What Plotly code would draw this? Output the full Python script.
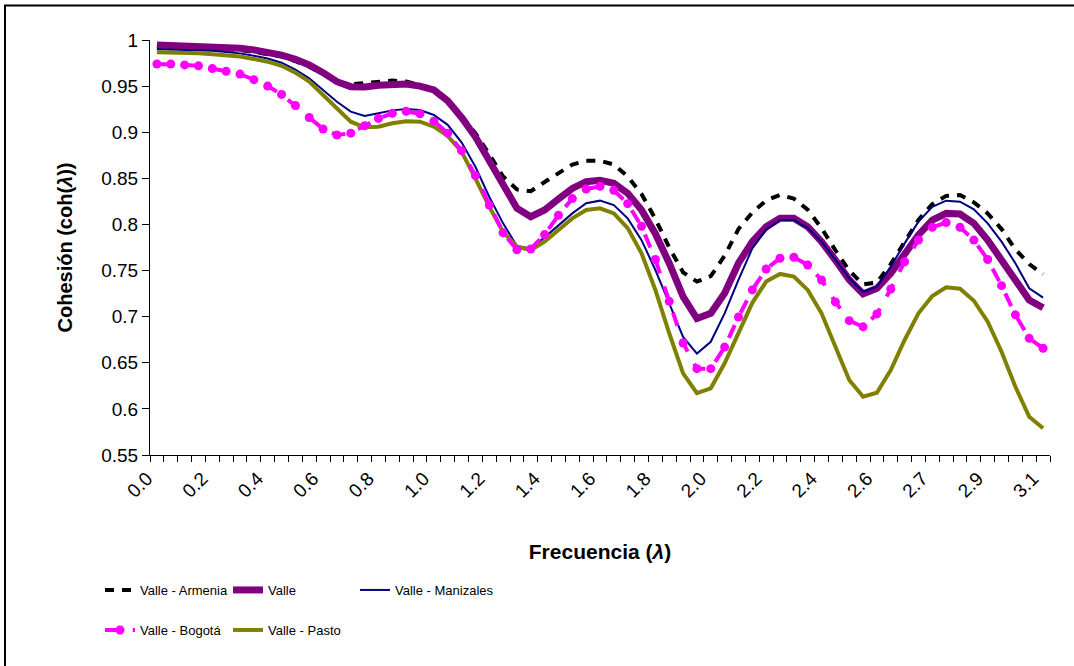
import numpy as np
import plotly.graph_objects as go

# Frequencies lambda_k = k*pi/64, k = 0..64
freq = [k * np.pi / 64 for k in range(65)]
tick_labels = ["0.0", "0.2", "0.4", "0.6", "0.8", "1.0", "1.2", "1.4", "1.6",
               "1.8", "2.0", "2.2", "2.4", "2.6", "2.7", "2.9", "3.1"]

valle_armenia = [0.993, 0.9925, 0.992, 0.9915, 0.991, 0.990, 0.989, 0.987, 0.985, 0.982,
                 0.977, 0.971, 0.963, 0.954, 0.952, 0.953, 0.955, 0.956, 0.955, 0.951,
                 0.944, 0.933, 0.918, 0.899, 0.876, 0.852, 0.838, 0.836, 0.846, 0.856,
                 0.865, 0.869, 0.869, 0.865, 0.852, 0.833, 0.806, 0.775, 0.748, 0.738,
                 0.744, 0.766, 0.795, 0.813, 0.826, 0.832, 0.828, 0.816, 0.796, 0.772,
                 0.750, 0.735, 0.737, 0.757, 0.782, 0.805, 0.822, 0.831, 0.832, 0.824,
                 0.812, 0.795, 0.773, 0.757, 0.746]

valle = [0.9946, 0.9942, 0.9938, 0.9933, 0.9928, 0.992, 0.991, 0.9893, 0.9873, 0.9837,
         0.979, 0.973, 0.9646, 0.9548, 0.9494, 0.949, 0.951, 0.9523, 0.9523, 0.950,
         0.9458, 0.934, 0.916, 0.895, 0.870, 0.843, 0.8175, 0.8084, 0.8157, 0.8276,
         0.839, 0.8464, 0.848, 0.8446, 0.8338, 0.8157, 0.790, 0.758, 0.7217, 0.698,
         0.7036, 0.7253, 0.758, 0.7813, 0.7976, 0.8066, 0.8066, 0.7976, 0.7813, 0.7614,
         0.740, 0.7246, 0.7307, 0.747, 0.7669, 0.7886, 0.8048, 0.812, 0.8113, 0.8012,
         0.783, 0.7614, 0.740, 0.7181, 0.7097]

valle_manizales = [0.990, 0.9898, 0.9893, 0.989, 0.9884, 0.987, 0.9855, 0.983, 0.980, 0.9754,
                   0.968, 0.9584, 0.9458, 0.933, 0.9223, 0.9176, 0.9205, 0.9237, 0.9252, 0.924,
                   0.9187, 0.908, 0.889, 0.8626, 0.830, 0.8012, 0.7766, 0.774, 0.786, 0.7994,
                   0.812, 0.823, 0.8258, 0.821, 0.8066, 0.783, 0.7506, 0.7145, 0.678, 0.660,
                   0.6728, 0.7036, 0.740, 0.7741, 0.794, 0.8048, 0.8048, 0.796, 0.7813, 0.762,
                   0.7416, 0.727, 0.7325, 0.7542, 0.7795, 0.803, 0.8192, 0.8258, 0.8247, 0.8164,
                   0.8012, 0.7813, 0.758, 0.7307, 0.7206]

valle_bogota = [0.974, 0.974, 0.973, 0.972, 0.969, 0.966, 0.963, 0.957, 0.950, 0.941,
                0.929, 0.916, 0.9035, 0.897, 0.899, 0.907, 0.915, 0.9205, 0.9227, 0.920,
                0.912, 0.899, 0.880, 0.853, 0.821, 0.791, 0.7726, 0.7734, 0.789, 0.810,
                0.828, 0.8384, 0.8413, 0.837, 0.8225, 0.798, 0.762, 0.7166, 0.6714, 0.6436,
                0.6436, 0.667, 0.6996, 0.729, 0.7517, 0.7633, 0.7644, 0.756, 0.7398, 0.716,
                0.6957, 0.689, 0.703, 0.730, 0.7596, 0.783, 0.797, 0.802, 0.797, 0.783,
                0.762, 0.7336, 0.702, 0.6765, 0.6657]

valle_pasto = [0.9866, 0.9864, 0.9862, 0.9855, 0.9845, 0.9835, 0.982, 0.9795, 0.9765, 0.972,
               0.9646, 0.9548, 0.9404, 0.926, 0.9114, 0.9053, 0.906, 0.9097, 0.912, 0.9114,
               0.906, 0.896, 0.879, 0.850, 0.8193, 0.792, 0.776, 0.7723, 0.7813, 0.794,
               0.8066, 0.8157, 0.8175, 0.812, 0.796, 0.7687, 0.7289, 0.682, 0.6386, 0.617,
               0.6223, 0.6494, 0.682, 0.715, 0.738, 0.7463, 0.7434, 0.729, 0.7036, 0.6675,
               0.6313, 0.6132, 0.6175, 0.642, 0.6747, 0.7036, 0.7224, 0.7318, 0.7303, 0.7173,
               0.6945, 0.662, 0.624, 0.5915, 0.579]

y_ticks = [0.55, 0.6, 0.65, 0.7, 0.75, 0.8, 0.85, 0.9, 0.95, 1.0]
y_tick_text = ["0.55", "0.6", "0.65", "0.7", "0.75", "0.8", "0.85", "0.9", "0.95", "1"]

step = np.pi / 64
boundaries = [freq[0] - step / 2 + i * step for i in range(66)]

fig = go.Figure()
fig.add_trace(go.Scatter(x=freq, y=valle_armenia, mode="lines", name="Valle - Armenia",
                         line=dict(color="black", width=4, dash="9px,8px"),
                         legend="legend", showlegend=True))
fig.add_trace(go.Scatter(x=freq, y=valle, mode="lines", name="Valle",
                         line=dict(color="#800080", width=7), legend="legend2", showlegend=True))
fig.add_trace(go.Scatter(x=freq, y=valle_manizales, mode="lines", name="Valle - Manizales",
                         line=dict(color="#000080", width=2), legend="legend3", showlegend=True))
fig.add_trace(go.Scatter(x=freq, y=valle_pasto, mode="lines", name="Valle - Pasto",
                         line=dict(color="#808000", width=4), legend="legend5", showlegend=True))
fig.add_trace(go.Scatter(x=freq, y=valle_bogota, mode="lines+markers", name="Valle - Bogotá",
                         line=dict(color="#FF00FF", width=4, dash="14px,13.7px"),
                         marker=dict(symbol="circle", size=9, color="#FF00FF"),
                         legend="legend4", showlegend=True))

legend_font = dict(family="Liberation Sans, Arial", size=13, color="black")


def leg(xp, yp):
    return dict(orientation="v", x=xp, y=yp, xanchor="left", yanchor="middle",
                font=legend_font, bgcolor="rgba(0,0,0,0)", borderwidth=0)


col_x = [(100 - 150) / 900, (228 - 150) / 900, (355 - 150) / 900]
row_y = [(455 - 590) / 415, (455 - 630) / 415]

fig.update_layout(
    width=1074, height=666,
    showlegend=True,
    margin=dict(l=150, r=24, t=40, b=211),
    paper_bgcolor="white", plot_bgcolor="white",
    font=dict(family="Liberation Sans, Arial", size=19, color="black"),
    xaxis=dict(
        range=[freq[0] - step / 2, freq[-1] + step / 2],
        tickmode="array", tickvals=freq[::4], ticktext=tick_labels,
        tickangle=-45, ticks="", showgrid=False, zeroline=False,
        showline=True, linecolor="black", linewidth=1,
        tickfont=dict(size=19), ticklabelshift=-10, ticklabelstandoff=4,
        minor=dict(tickmode="array", tickvals=boundaries, ticks="outside",
                   ticklen=6, tickcolor="black", tickwidth=1, showgrid=False),
        title=dict(text="<b>Frecuencia (<i>λ</i>)</b>", font=dict(size=21), standoff=43),
    ),
    yaxis=dict(
        range=[0.55, 1.0], tickmode="array", tickvals=y_ticks, ticktext=y_tick_text,
        ticks="outside", ticklen=7, tickcolor="black", tickwidth=1,
        showgrid=False, zeroline=False, showline=True, linecolor="black", linewidth=1,
        tickfont=dict(size=19),
        title=dict(text="<b>Cohesión (coh(<i>λ</i>))</b>", font=dict(size=20), standoff=23),
    ),
    legend=leg(col_x[0], row_y[0]),
    legend2=leg(col_x[1], row_y[0]),
    legend3=leg(col_x[2], row_y[0]),
    legend4=leg(col_x[0], row_y[1]),
    legend5=leg(col_x[1], row_y[1]),
    shapes=[dict(type="rect", xref="paper", yref="paper",
                 x0=(5 - 150) / 900, x1=(1090 - 150) / 900,
                 y0=(455 - 680) / 415, y1=(455 - 5.5) / 415,
                 line=dict(color="black", width=2), fillcolor="rgba(0,0,0,0)")],
)

fig.write_html("out.html", config={"displayModeBar": False},
               post_script="document.body.style.margin='0';document.body.style.overflow='hidden';")
